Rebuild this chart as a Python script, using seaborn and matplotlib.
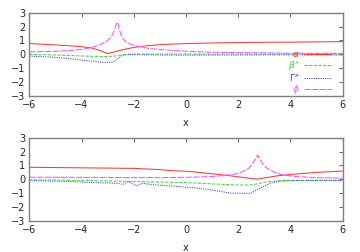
import matplotlib
matplotlib.use('Agg')
import matplotlib.pyplot as plt
import seaborn as sns

# top panel
top_x_alpha = [-6, -5, -4.5, -4, -3.6, -3.3, -3.1, -3.0, -2.9, -2.7, -2.5, -2.2, -2, -1.5, -1, 0, 1, 2, 3, 4, 5, 6]
top_alpha = [0.78, 0.68, 0.62, 0.55, 0.45, 0.28, 0.12, 0.05, 0.1, 0.2, 0.3, 0.42, 0.5, 0.62, 0.7, 0.78, 0.82, 0.85, 0.87, 0.88, 0.9, 0.92]
top_x_beta = [-6, -5, -4, -3.5, -3, -2.7, -2.5, -2.3, -2, -1, 0, 2, 4, 6]
top_beta = [0.0, -0.05, -0.12, -0.15, -0.16, -0.12, -0.05, 0.0, 0.02, 0.02, 0.02, 0.02, 0.02, 0.02]
top_x_gamma = [-6, -5, -4.5, -4, -3.5, -3.2, -3.0, -2.8, -2.7, -2.6, -2.5, -2.4, -2.2, -2, -1, 0, 2, 4, 6]
top_gamma = [-0.12, -0.22, -0.3, -0.42, -0.52, -0.58, -0.6, -0.55, -0.45, -0.3, -0.15, -0.07, -0.02, -0.02, -0.05, -0.06, -0.05, -0.04, -0.05]
top_x_phi = [-6, -5, -4.5, -4, -3.6, -3.3, -3.0, -2.85, -2.75, -2.7, -2.65, -2.6, -2.55, -2.5, -2.4, -2.3, -2.1, -1.8, -1.4, -1, -0.5, 0, 1, 2, 3, 4, 5, 6]
top_phi = [0.18, 0.22, 0.27, 0.35, 0.5, 0.7, 1.0, 1.3, 1.7, 2.0, 2.3, 2.2, 1.8, 1.45, 1.1, 0.9, 0.7, 0.55, 0.42, 0.35, 0.28, 0.22, 0.15, 0.12, 0.1, 0.08, 0.07, 0.06]

# bottom panel
bot_x_alpha = [-6, -4, -2, -1, -0.6, 0, 0.5, 1, 1.5, 2, 2.4, 2.7, 3.0, 3.5, 4, 5, 6]
bot_alpha = [0.87, 0.83, 0.79, 0.7, 0.63, 0.58, 0.5, 0.4, 0.3, 0.18, 0.08, 0.01, 0.1, 0.25, 0.35, 0.5, 0.6]
bot_x_beta = [-6, -4, -3, -2, -1, 0, 1, 2, 2.5, 2.8, 3.1, 3.6, 4, 5, 6]
bot_beta = [-0.03, -0.08, -0.12, -0.16, -0.2, -0.24, -0.33, -0.42, -0.4, -0.3, -0.18, -0.1, -0.08, -0.08, -0.08]
bot_x_gamma = [-6, -4.5, -3.7, -3.0, -2.6, -2.41, -2.22, -2.05, -1.88, -1.69, -1.2, -0.5, 0, 0.5, 1, 1.7, 2.45, 2.83, 3.2, 3.6, 4, 5, 6]
bot_gamma = [-0.1, -0.15, -0.23, -0.26, -0.3, -0.37, -0.18, -0.3, -0.47, -0.29, -0.4, -0.5, -0.56, -0.65, -0.78, -1.0, -1.02, -0.66, -0.3, -0.13, -0.1, -0.08, -0.08]
bot_x_phi = [-6, -4, -2, -1, 0, 1, 1.5, 1.8, 2.1, 2.4, 2.55, 2.65, 2.74, 2.82, 2.95, 3.1, 3.4, 3.7, 4.2, 5, 6]
bot_phi = [0.15, 0.14, 0.12, 0.12, 0.14, 0.2, 0.28, 0.35, 0.5, 0.8, 1.1, 1.45, 1.75, 1.5, 1.05, 0.8, 0.5, 0.32, 0.2, 0.12, 0.08]

labels = [r'$\alpha$', r'$\beta^x$', r'$\Gamma^x$', r'$\phi$']
colors = ['#ff3838', '#38e038', '#3838ff', '#ff50ff']
styles = ['-', (0, (3, 1.5)), (0, (1, 1.2)), (0, (6, 1.5))]
x_ticks = [-6, -4, -2, 0, 2, 4, 6]
y_ticks = [-3, -2, -1, 0, 1, 2, 3]

sns.set_style('white')
plt.rcParams['font.family'] = ['DejaVu Sans']

fig = plt.figure(figsize=(3.6, 2.52), dpi=100)
ax1 = fig.add_axes([0.0814, 0.620, 0.8706, 0.329])
ax2 = fig.add_axes([0.0814, 0.124, 0.8706, 0.329])

top = [(top_x_alpha, top_alpha), (top_x_beta, top_beta), (top_x_gamma, top_gamma), (top_x_phi, top_phi)]
bot = [(bot_x_alpha, bot_alpha), (bot_x_beta, bot_beta), (bot_x_gamma, bot_gamma), (bot_x_phi, bot_phi)]

for ax, series, show_leg in [(ax1, top, True), (ax2, bot, False)]:
    for (xs, ys), lab, c, ls in zip(series, labels, colors, styles):
        sns.lineplot(x=xs, y=ys, ax=ax, color=c, linestyle=ls, linewidth=0.75,
                     label=lab if show_leg else None, legend=show_leg)
    ax.set_xlim(-6, 6)
    ax.set_ylim(-3, 3)
    ax.set_xticks(x_ticks)
    ax.set_yticks(y_ticks)
    ax.tick_params(direction='in', length=3, width=0.8, color='#707070', labelsize=7,
                   top=True, right=True, pad=3)
    for sp in ax.spines.values():
        sp.set_color('#808080')
        sp.set_linewidth(1.0)
    ax.set_xlabel('x', fontsize=7, labelpad=6)
    ax.set_ylabel('')

leg = ax1.legend(loc='lower right', bbox_to_anchor=(0.962, 0.0), frameon=False, fontsize=6.5,
                 markerfirst=False, labelcolor='linecolor', handlelength=3.0,
                 handletextpad=0.4, labelspacing=0.0, borderpad=0.0, borderaxespad=0.0)

fig.savefig('out.png', dpi=100)
